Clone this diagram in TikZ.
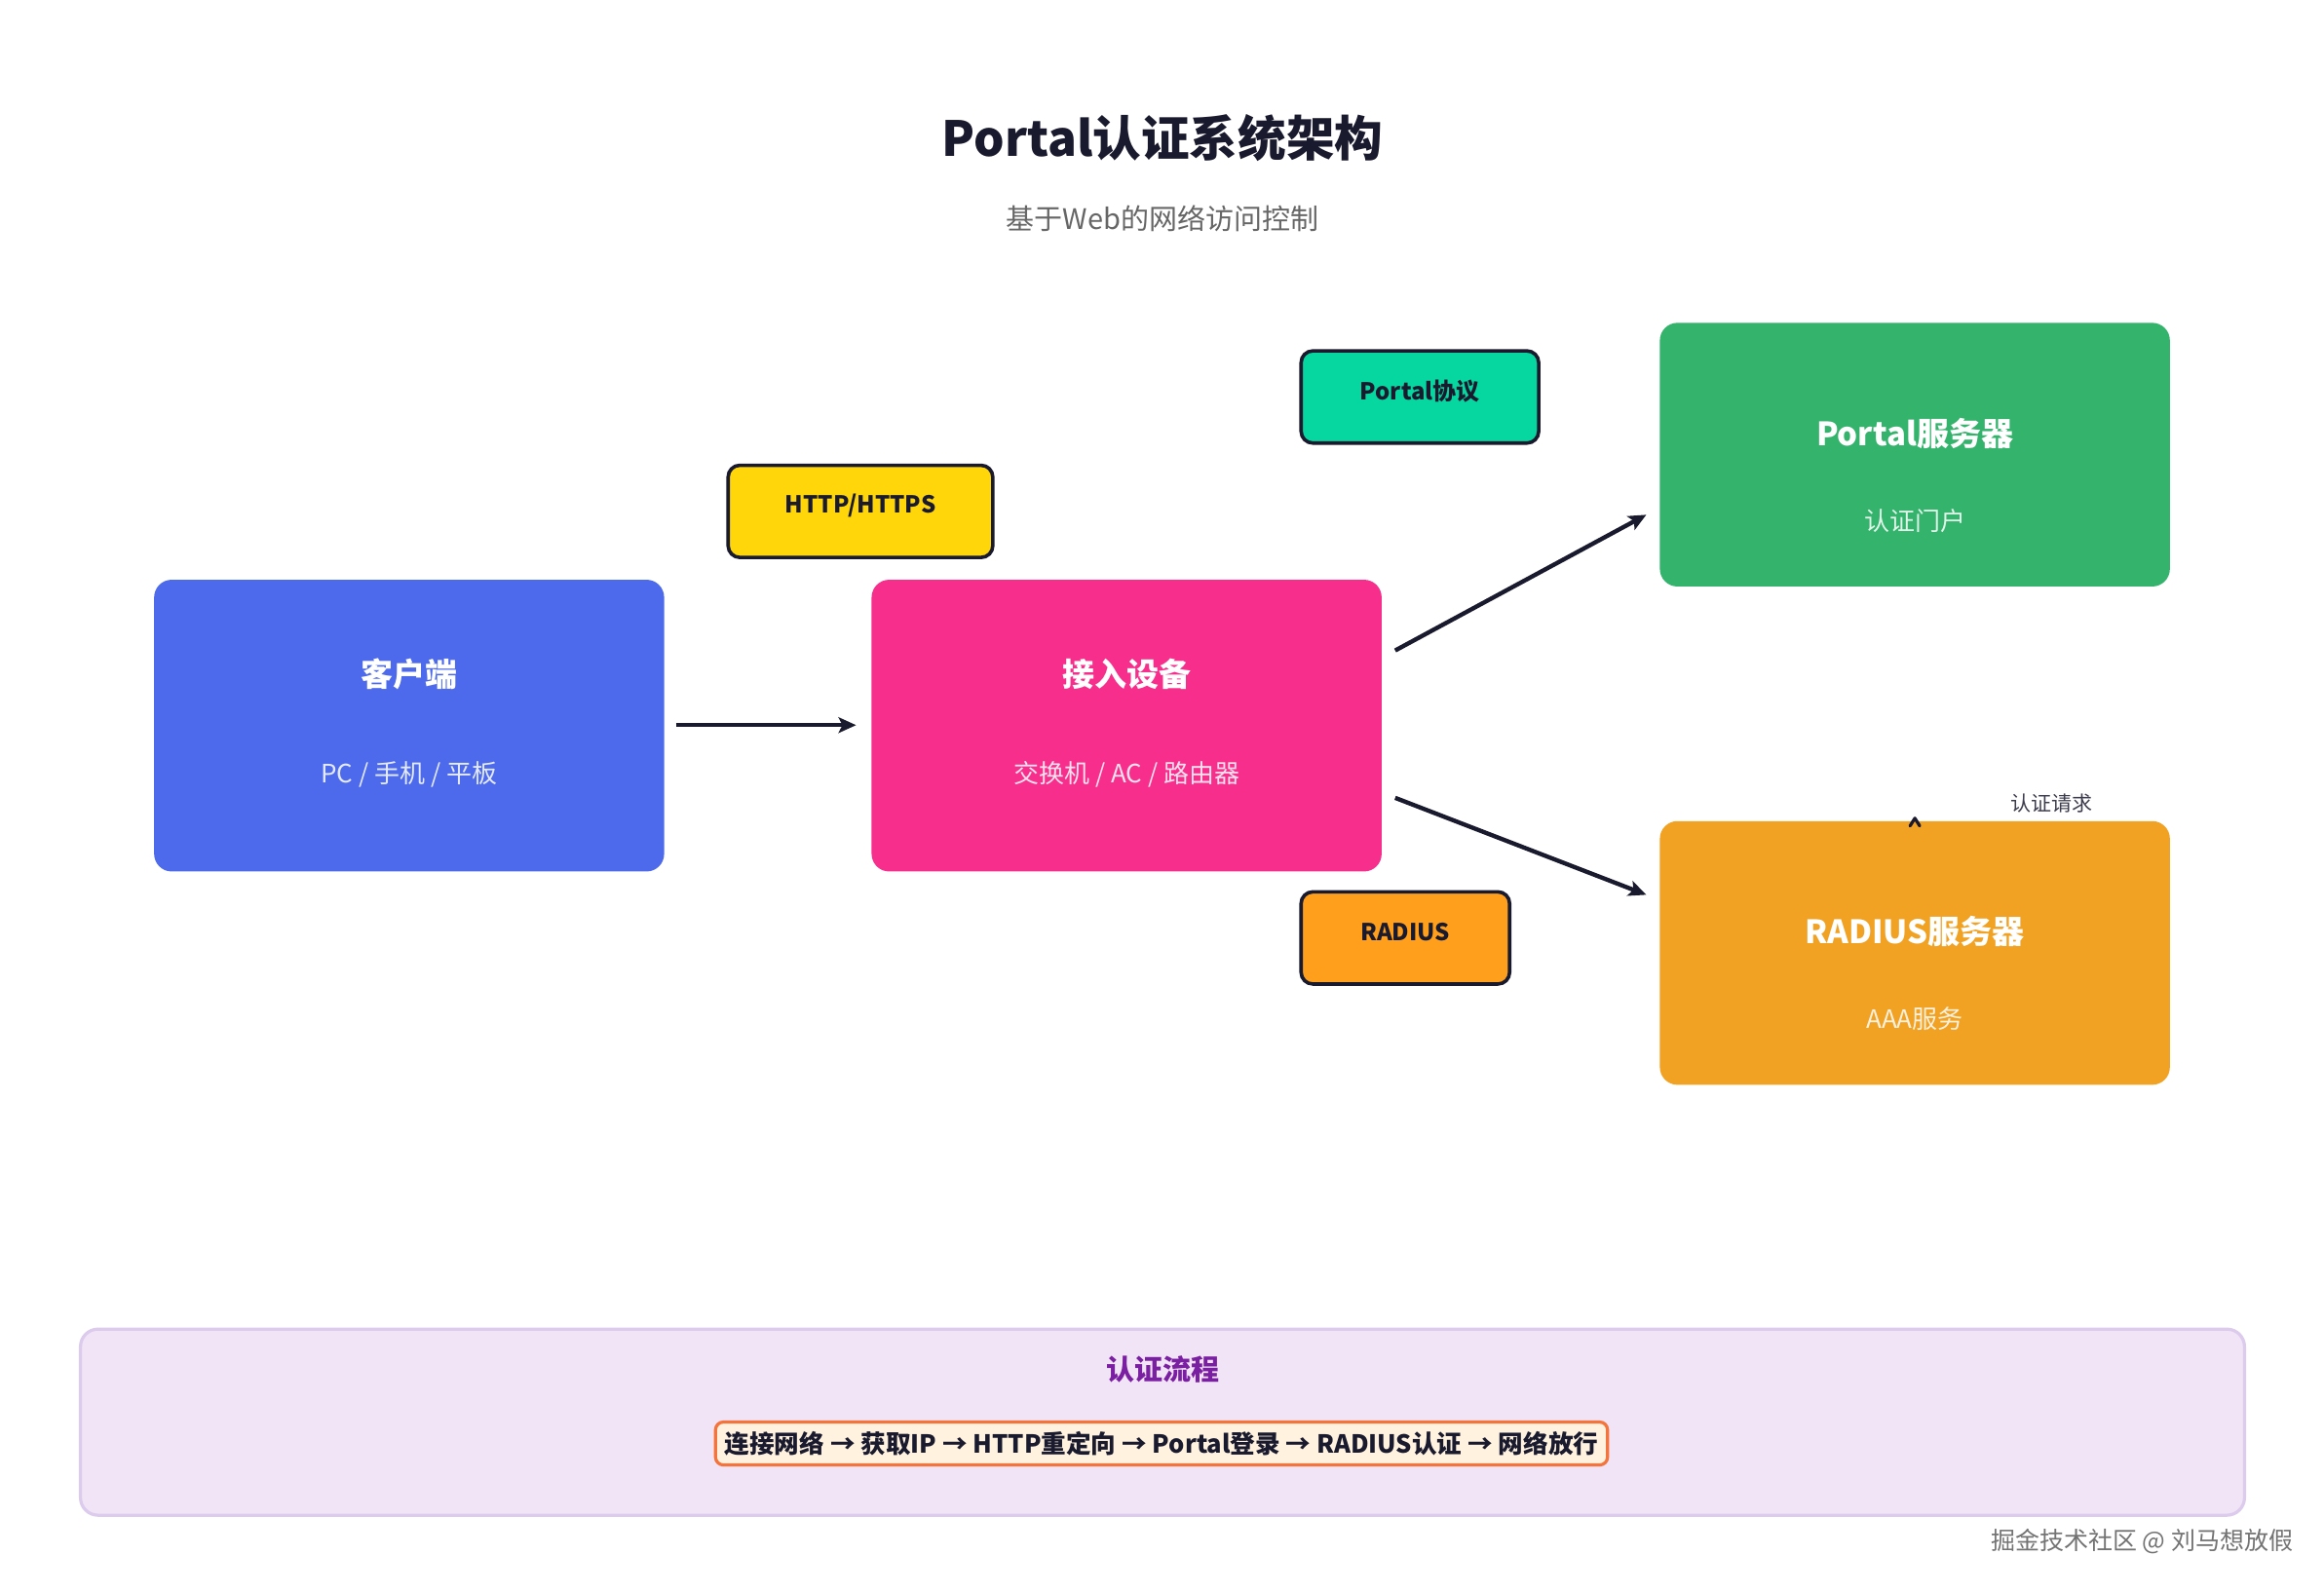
\documentclass[tikz,border=0pt]{standalone}
\usepackage{fontspec}
\setmainfont{Noto Sans CJK SC}
\usetikzlibrary{arrows.meta}
\definecolor{ink}{HTML}{1A1A2E}
\definecolor{cblue}{HTML}{4C6AEB}
\definecolor{cpink}{HTML}{F72E8C}
\definecolor{cgreen}{HTML}{33B36B}
\definecolor{corange}{HTML}{F2A222}
\definecolor{lyellow}{HTML}{FFD60A}
\definecolor{lteal}{HTML}{06D6A0}
\definecolor{lorange}{HTML}{FF9F1C}
\definecolor{flowfill}{HTML}{F1E4F6}
\definecolor{flowline}{HTML}{DCCBEC}
\definecolor{flowtitle}{HTML}{7B1FA2}
\definecolor{stepfill}{HTML}{FFF3E0}
\definecolor{stepline}{HTML}{F4743B}
\definecolor{subgray}{HTML}{666666}
\tikzset{
  bigbox/.style={rounded corners=9pt, minimum width=261.7pt, inner sep=0pt, draw=none},
  boxtitle/.style={text=white, font=\fontsize{16.5pt}{20pt}\selectfont\bfseries},
  boxsub/.style={font=\fontsize{13pt}{16pt}\selectfont},
  lblbox/.style={rounded corners=6pt, draw=ink, line width=1.8pt, minimum height=47.3pt, inner sep=0pt},
  lbltext/.style={text=ink, font=\fontsize{12pt}{14pt}\selectfont\bfseries},
  arr/.style={draw=ink, line width=2.2pt, -{Stealth[length=9pt,width=8pt,inset=2pt]}}
}
\begin{document}
\begin{tikzpicture}[x=0.4975pt,y=-0.4975pt]
\useasboundingbox[fill=white] (0,0) rectangle (2397,1643.2);

% title
\node[text=ink, font=\fontsize{24.8pt}{30pt}\selectfont\bfseries] (title) at (1199,142) {Portal认证系统架构};
\node[text=subgray, font=\fontsize{14.5pt}{17pt}\selectfont] (subtitle) at (1199,225) {基于Web的网络访问控制};

% main boxes
\node[bigbox, fill=cblue, minimum height=149.7pt] (client) at (422,748.5) {};
\node[boxtitle] (clientT) at (422,695) {客户端};
\node[boxsub, text=white!85!cblue] (clientS) at (422,799) {PC / 手机 / 平板};

\node[bigbox, fill=cpink, minimum height=149.7pt] (access) at (1162,748.5) {};
\node[boxtitle] (accessT) at (1162,695) {接入设备};
\node[boxsub, text=white!85!cpink] (accessS) at (1162,799) {交换机 / AC / 路由器};

\node[bigbox, fill=cgreen, minimum height=135.3pt] (portal) at (1975,469) {};
\node[boxtitle] (portalT) at (1975,447) {Portal服务器};
\node[boxsub, text=white!85!cgreen] (portalS) at (1975,537) {认证门户};

\node[bigbox, fill=corange, minimum height=135.3pt] (radius) at (1975,983) {};
\node[boxtitle] (radiusT) at (1975,961) {RADIUS服务器};
\node[boxsub, text=white!85!corange] (radiusS) at (1975,1051) {AAA服务};

% protocol labels
\node[lblbox, fill=lyellow, minimum width=135.8pt] (httpL) at (887.5,527.5) {};
\node[lbltext] (httpT) at (887.5,522) {HTTP/HTTPS};
\node[lblbox, fill=lteal, minimum width=121.9pt] (portalL) at (1464.5,409.5) {};
\node[lbltext] (portalLT) at (1464.5,404) {Portal协议};
\node[lblbox, fill=lorange, minimum width=107pt] (radiusL) at (1449.5,967.5) {};
\node[lbltext] (radiusLT) at (1449.5,961) {RADIUS};

% connectors
\coordinate (c1s) at (697,748);
\coordinate (c1e) at (883,748);
\coordinate (c2s) at (1439,671);
\coordinate (c2e) at (1698,531);
\coordinate (c3s) at (1439,823);
\coordinate (c3e) at (1698,923);
\draw[arr] (c1s) -- (c1e);
\draw[arr] (c2s) -- (c2e);
\draw[arr] (c3s) -- (c3e);

% small chevron on radius box
\coordinate (chevL) at (1970,852);
\coordinate (chevT) at (1975,844);
\coordinate (chevR) at (1980,852);
\draw[ink, line width=1.6pt, line cap=round, line join=round] (chevL) -- (chevT) -- (chevR);
\node[text=ink!85, font=\fontsize{10.5pt}{12pt}\selectfont] (authreq) at (2116,829) {认证请求};

% flow panel
\node[rounded corners=9pt, fill=flowfill, draw=flowline, line width=1.6pt, minimum width=1110.4pt, minimum height=95.5pt, inner sep=0pt] (flow) at (1199,1467) {};
\node[text=flowtitle, font=\fontsize{14.5pt}{17pt}\selectfont\bfseries] (flowT) at (1199,1413) {认证流程};
\node[rounded corners=4pt, fill=stepfill, draw=stepline, line width=1.6pt, minimum width=457.7pt, minimum height=22pt, inner sep=0pt, text=ink, font=\fontsize{12.8pt}{15pt}\selectfont\bfseries] (steps) at (1198,1489) {连接网络 → 获取IP → HTTP重定向 → Portal登录 → RADIUS认证 → 网络放行};

% watermark
\node[anchor=east, text=black!55, font=\fontsize{12.5pt}{15pt}\selectfont] (wm) at (2372,1590) {掘金技术社区 @ 刘马想放假};
\end{tikzpicture}
\end{document}
